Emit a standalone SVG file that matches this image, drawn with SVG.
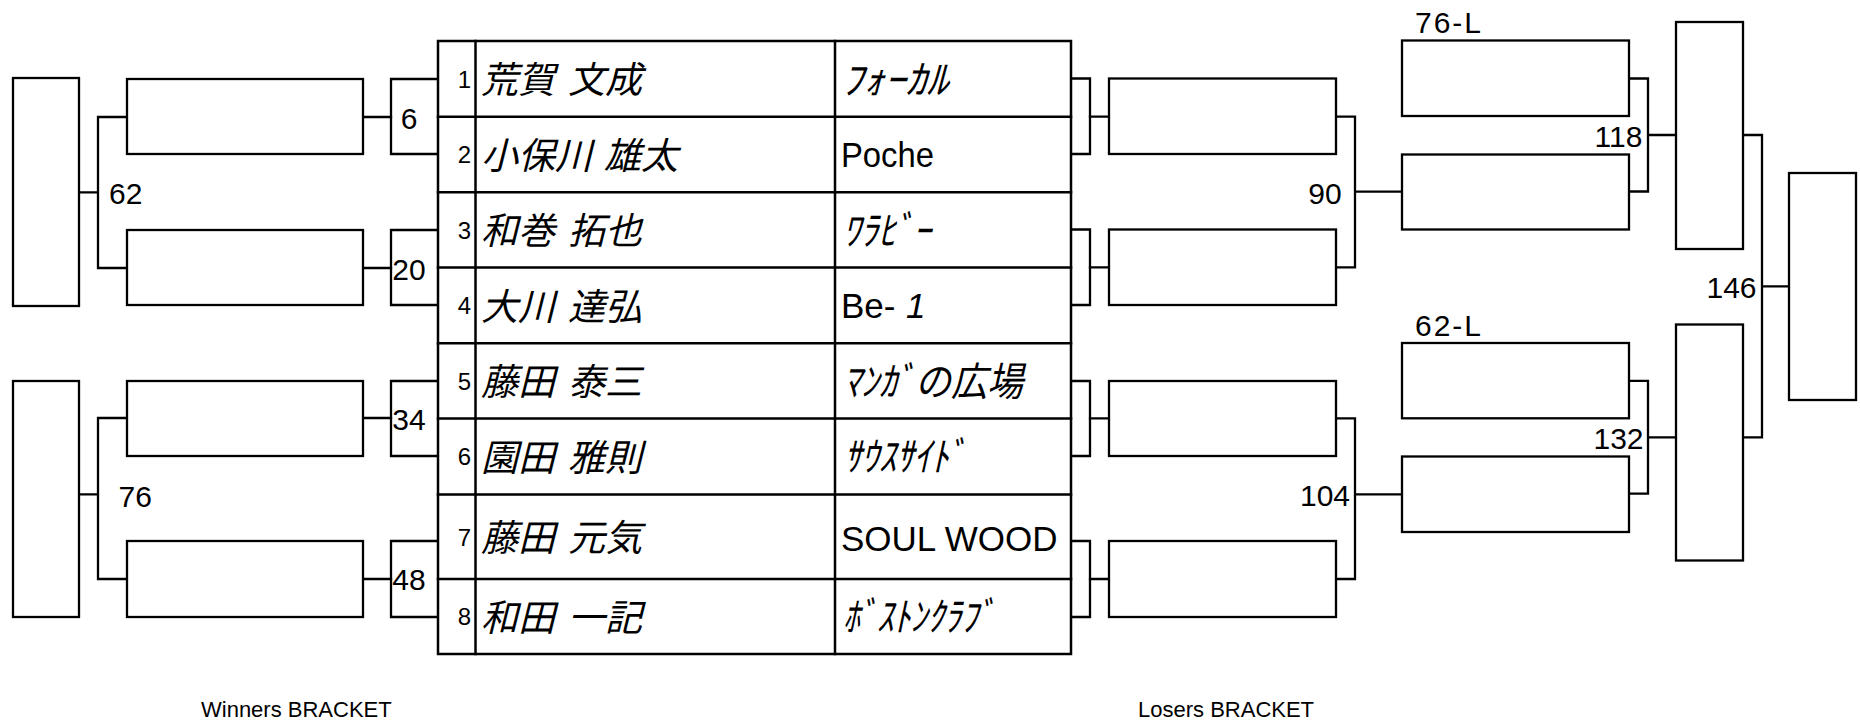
<svg xmlns="http://www.w3.org/2000/svg" width="1860" height="723" viewBox="0 0 1860 723">
<style>
rect.b{fill:#fff;stroke:#000;stroke-width:2.3}
.ln{fill:none;stroke:#000;stroke-width:2.3;stroke-linecap:square}
.tb{fill:none;stroke:#000;stroke-width:2.5;stroke-linecap:square}
text{font-family:"Liberation Sans",Arial,sans-serif;fill:#000}
.lbl{font-size:30px}
.num{font-size:24px;text-anchor:end}
.jp{font-family:"Noto Sans CJK JP","Noto Sans CJK SC",sans-serif;font-size:37px;font-style:italic}
.kn{font-family:"Noto Sans CJK JP","Noto Sans CJK SC",sans-serif;font-size:40px;font-style:italic}
.tm{font-size:35px}
.cap{font-size:22px}
</style>
<rect width="1860" height="723" fill="#fff"/>

<g id="connectors">
  <path class="ln" d="M79 192.3H98M98 117V268M98 117H127M98 268H127"/>
  <path class="ln" d="M79 494.3H98M98 418V579M98 418H127M98 579H127"/>
  <path class="ln" d="M363 117H391M363 268H391M363 418H391M363 579H391"/>
  <path class="ln" d="M438 79H391V154H438M438 230H391V305H438M438 381H391V456H438M438 541H391V617H438"/>
  <path class="ln" d="M1071 78.5H1090V154H1071M1071 229.5H1090V305H1071M1071 381H1090V456H1071M1071 541H1090V617H1071"/>
  <path class="ln" d="M1090 116.7H1109M1090 267.3H1109M1090 418.3H1109M1090 579H1109"/>
  <path class="ln" d="M1336 116.7H1355V267.3H1336M1355 191.7H1402"/>
  <path class="ln" d="M1336 418.3H1355V579H1336M1355 494.3H1402"/>
  <path class="ln" d="M1629 78.5H1648V191.5H1629M1648 135H1676"/>
  <path class="ln" d="M1629 380.8H1648V493.7H1629M1648 437.4H1676"/>
  <path class="ln" d="M1743 135H1762V437.4H1743M1762 286.3H1789"/>
</g>

<g id="winners">
  <g id="w-final-top"><rect class="b" x="13" y="78" width="66" height="228"/></g>
  <g id="w-final-bottom"><rect class="b" x="13" y="381" width="66" height="236"/></g>
  <g id="w-6"><rect class="b" x="127" y="79" width="236" height="75"/></g>
  <g id="w-20"><rect class="b" x="127" y="230" width="236" height="75"/></g>
  <g id="w-34"><rect class="b" x="127" y="381" width="236" height="75"/></g>
  <g id="w-48"><rect class="b" x="127" y="541" width="236" height="76"/></g>
  <text class="lbl" x="109" y="204">62</text>
  <text class="lbl" x="118.5" y="507">76</text>
  <text class="lbl" x="409" y="129" text-anchor="middle">6</text>
  <text class="lbl" x="409" y="280" text-anchor="middle">20</text>
  <text class="lbl" x="409" y="429.5" text-anchor="middle">34</text>
  <text class="lbl" x="409" y="590" text-anchor="middle">48</text>
</g>

<g id="table">
  <rect x="438" y="41" width="633" height="613" fill="#fff" stroke="#000" stroke-width="2.5"/>
  <path class="tb" d="M475.5 41V654M835 41V654M438 116.7H1071M438 192.3H1071M438 267.5H1071M438 343.3H1071M438 418.5H1071M438 494.5H1071M438 579H1071"/>
  <g id="row1"><text class="num" x="471" y="87.5">1</text><text class="jp" y="93"><tspan x="481">荒賀 </tspan><tspan x="568">文成</tspan></text><text class="kn" x="842" y="93.5" textLength="106" lengthAdjust="spacingAndGlyphs">ﾌｫｰｶﾙ</text></g>
  <g id="row2"><text class="num" x="471" y="163">2</text><text class="jp" y="168.5"><tspan x="481">小保川 </tspan><tspan x="604">雄太</tspan></text><text class="tm" x="841" y="167.3" textLength="93" lengthAdjust="spacingAndGlyphs">Poche</text></g>
  <g id="row3"><text class="num" x="471" y="238.5">3</text><text class="jp" y="244"><tspan x="481">和巻 </tspan><tspan x="568">拓也</tspan></text><text class="kn" x="843" y="244.5" textLength="88" lengthAdjust="spacingAndGlyphs">ﾜﾗﾋﾞｰ</text></g>
  <g id="row4"><text class="num" x="471" y="314">4</text><text class="jp" y="319.5"><tspan x="481">大川 </tspan><tspan x="568">達弘</tspan></text><text class="tm" x="841" y="318.3">Be- <tspan x="906" font-style="italic">1</tspan></text></g>
  <g id="row5"><text class="num" x="471" y="389.5">5</text><text class="jp" y="395"><tspan x="481">藤田 </tspan><tspan x="568">泰三</tspan></text><text class="kn" x="843" y="395.5" textLength="180" lengthAdjust="spacingAndGlyphs">ﾏﾝｶﾞの広場</text></g>
  <g id="row6"><text class="num" x="471" y="465">6</text><text class="jp" y="470.5"><tspan x="481">園田 </tspan><tspan x="568">雅則</tspan></text><text class="kn" x="844" y="471" textLength="122" lengthAdjust="spacingAndGlyphs">ｻｳｽｻｲﾄﾞ</text></g>
  <g id="row7"><text class="num" x="471" y="545.5">7</text><text class="jp" y="551"><tspan x="481">藤田 </tspan><tspan x="568">元気</tspan></text><text class="tm" x="841" y="550.5">SOUL WOOD</text></g>
  <g id="row8"><text class="num" x="471" y="625">8</text><text class="jp" y="630.5"><tspan x="481">和田 </tspan><tspan x="568">一記</tspan></text><text class="kn" x="843" y="631" textLength="152" lengthAdjust="spacingAndGlyphs">ﾎﾞｽﾄﾝｸﾗﾌﾞ</text></g>
</g>

<g id="losers">
  <g id="l-r1a"><rect class="b" x="1109" y="78.5" width="227" height="75.5"/></g>
  <g id="l-r1b"><rect class="b" x="1109" y="229.5" width="227" height="75.5"/></g>
  <g id="l-r1c"><rect class="b" x="1109" y="381" width="227" height="75"/></g>
  <g id="l-r1d"><rect class="b" x="1109" y="541" width="227" height="76"/></g>
  <g id="l-76L"><rect class="b" x="1402" y="40.5" width="227" height="75.5"/></g>
  <g id="l-90"><rect class="b" x="1402" y="154.5" width="227" height="75"/></g>
  <g id="l-62L"><rect class="b" x="1402" y="343" width="227" height="75.3"/></g>
  <g id="l-104"><rect class="b" x="1402" y="456.5" width="227" height="75.5"/></g>
  <g id="l-118"><rect class="b" x="1676" y="22" width="67" height="227"/></g>
  <g id="l-132"><rect class="b" x="1676" y="324.5" width="67" height="236"/></g>
  <g id="l-146"><rect class="b" x="1789" y="173" width="67" height="227"/></g>
  <text class="lbl" x="1325" y="203.5" text-anchor="middle">90</text>
  <text class="lbl" x="1325" y="505.7" text-anchor="middle">104</text>
  <text class="lbl" x="1618.5" y="147.3" text-anchor="middle">118</text>
  <text class="lbl" x="1618.5" y="449" text-anchor="middle">132</text>
  <text class="lbl" x="1731.5" y="297.7" text-anchor="middle">146</text>
  <text class="lbl" x="1415" y="32.7" letter-spacing="2">76-L</text>
  <text class="lbl" x="1415" y="336" letter-spacing="2">62-L</text>
</g>

<text class="cap" x="201" y="716.7">Winners BRACKET</text>
<text class="cap" x="1138" y="716.7">Losers BRACKET</text>
</svg>
